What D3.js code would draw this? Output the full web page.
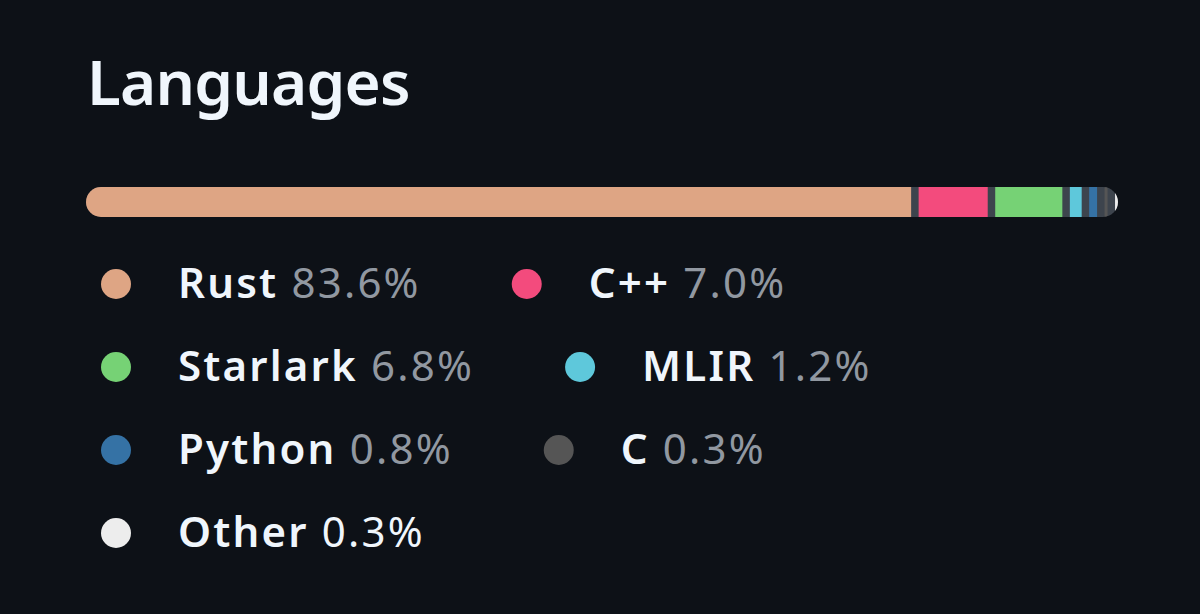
<!DOCTYPE html>
<html>
	<head>
		<meta charset="UTF-8">
		<title>Languages</title>
		<script src="https://cdn.jsdelivr.net/npm/d3@7/dist/d3.min.js"></script>
		<style>
			html, body { margin: 0; padding: 0; background: #0d1117; }
			svg { display: block; }
		</style>
	</head>
	<body>
		<script>
			// data
			var languages = ["Rust", "C++", "Starlark", "MLIR", "Python", "C", "Other"];
			var percents = [83.6, 7.0, 6.8, 1.2, 0.8, 0.3, 0.3];
			var colors = ["#dea584", "#f34b7d", "#76d275", "#5ec8db", "#3572a5", "#555555", "#ededed"];

			var width = 1200, height = 614;
			var svg = d3.select("body").append("svg")
				.attr("width", width)
				.attr("height", height);

			svg.append("rect")
				.attr("width", width).attr("height", height)
				.attr("fill", "#0d1117");

			// title
			svg.append("text")
				.attr("x", 87).attr("y", 105)
				.attr("fill", "#f0f6fc")
				.attr("font-family", "'Noto Sans', sans-serif")
				.attr("font-weight", 600)
				.attr("font-size", 62)
				.attr("letter-spacing", -0.8)
				.text("Languages");

			// progress bar
			var bar = {x: 86, y: 187, w: 1032, h: 30, gap: 7.5};
			var n = languages.length;
			var x = d3.scaleLinear()
				.domain([0, d3.sum(percents)])
				.range([0, bar.w - bar.gap * (n - 1)]);

			var starts = [];
			var acc = 0;
			percents.forEach(function(p, i){
				starts.push(x(acc) + i * bar.gap);
				acc += p;
			});

			svg.append("clipPath").attr("id", "barclip")
				.append("rect")
				.attr("x", bar.x).attr("y", bar.y)
				.attr("width", bar.w).attr("height", bar.h)
				.attr("rx", bar.h / 2);

			var barG = svg.append("g").attr("clip-path", "url(#barclip)");
			barG.append("rect")
				.attr("x", bar.x).attr("y", bar.y)
				.attr("width", bar.w).attr("height", bar.h)
				.attr("fill", "#3d444d");

			barG.selectAll("rect.seg")
				.data(percents)
				.enter().append("rect")
				.attr("class", "seg")
				.attr("x", function(d, i){ return bar.x + starts[i]; })
				.attr("y", bar.y)
				.attr("width", function(d){ return x(d); })
				.attr("height", bar.h)
				.attr("fill", function(d, i){ return colors[i]; });

			// legend, laid out like a wrapping flex row
			var leg = {x: 101, y: 284, rowStep: 83, r: 15, labelOff: 77, itemGap: 91, maxRight: 1118};
			var items = svg.selectAll("g.item")
				.data(languages)
				.enter().append("g")
				.attr("class", "item");

			items.append("circle")
				.attr("cx", leg.r)
				.attr("cy", 0)
				.attr("r", leg.r)
				.attr("fill", function(d, i){ return colors[i]; });

			var txt = items.append("text")
				.attr("x", leg.labelOff)
				.attr("y", 14)
				.attr("font-family", "'Noto Sans', sans-serif")
				.attr("font-size", 42)
				.attr("letter-spacing", 2.2);
			txt.append("tspan")
				.attr("fill", "#f0f6fc")
				.attr("font-weight", 600)
				.text(function(d){ return d; });
			txt.append("tspan")
				.attr("fill", function(d){ return d === "Other" ? "#f0f6fc" : "#9198a1"; })
				.attr("font-weight", 400)
				.text(function(d, i){ return "\u00a0" + percents[i].toFixed(1) + "%"; });

			var cx = leg.x, row = 0;
			items.each(function(d, i){
				var w = leg.labelOff + this.querySelector("text").getComputedTextLength();
				if (cx > leg.x && cx + w > leg.maxRight - 100) {
					row++;
					cx = leg.x;
				}
				d3.select(this).attr("transform", "translate(" + cx + "," + (leg.y + row * leg.rowStep) + ")");
				cx += w + leg.itemGap;
			});
		</script>
	</body>
</html>
